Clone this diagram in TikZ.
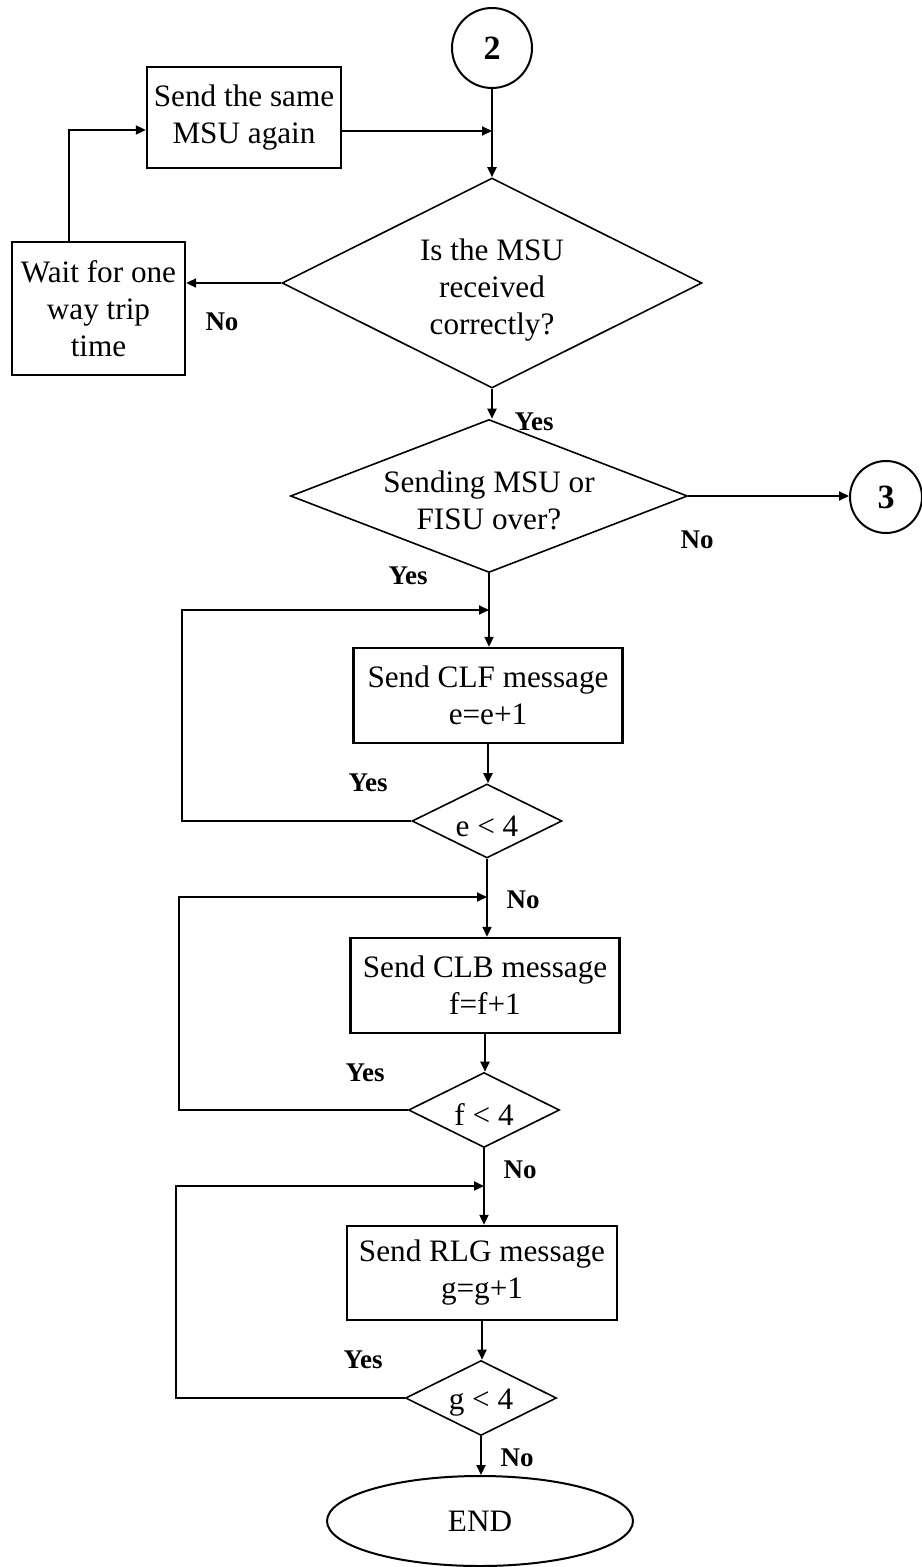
\documentclass[tikz,border=0pt]{standalone}
\usepackage{fontspec}
\setmainfont{Liberation Serif}
\usetikzlibrary{shapes.geometric,arrows.meta}

\begin{document}
\begin{tikzpicture}[x=0.5pt,y=-0.5pt,
  every node/.style={font=\fontsize{15.6}{18.5}\selectfont},
  box/.style={draw,line width=1.2pt,rectangle,inner sep=0pt,align=center},
  decision/.style={draw,line width=0.8pt,diamond,inner sep=0pt},
  connector/.style={draw,line width=1pt,circle,inner sep=0pt,
    font=\fontsize{17}{17}\selectfont\bfseries},
  terminal/.style={draw,line width=1pt,ellipse,inner sep=0pt},
  flow/.style={line width=1pt,-{Triangle[length=5pt,width=4.5pt]}},
  plain/.style={line width=1pt},
  lbl/.style={font=\fontsize{13.5}{13.5}\selectfont\bfseries,inner sep=0pt},
  dtxt/.style={align=center,inner sep=0pt,yshift=-2.5pt}
]
\useasboundingbox (0,0) rectangle (921,1567);

% ---- retransmission part ----
\node[connector,minimum size=40pt] (c2) at (492,48) {2};
\node[box,minimum width=97pt,minimum height=50.5pt] (send) at (244,117.5)
  {Send the same\\MSU again};
\node[box,minimum width=86.5pt,minimum height=66.5pt] (wait) at (98.5,308.5)
  {Wait for one\\way trip\\time};
\node[decision,minimum width=210pt,minimum height=105pt,
  label={[dtxt,yshift=-1pt]center:Is the MSU\\received\\correctly?}] (d1) at (492,283) {};

% ---- second decision ----
\node[decision,minimum width=198.5pt,minimum height=76.5pt,
  label={[dtxt,yshift=0.5pt]center:Sending MSU or\\FISU over?}] (d2) at (489,496) {};
\node[connector,minimum size=36pt] (c3) at (886,497) {3};

% ---- CLF / CLB / RLG loops ----
\node[box,minimum width=134.5pt,minimum height=47.5pt] (clf) at (488,695.5)
  {Send CLF message\\e=e+1};
\node[decision,minimum width=75pt,minimum height=37pt,
  label={[dtxt]center:e < 4}] (e) at (487,821) {};
\node[box,minimum width=134.5pt,minimum height=47.5pt] (clb) at (485,985.5)
  {Send CLB message\\f=f+1};
\node[decision,minimum width=75.5pt,minimum height=37.5pt,
  label={[dtxt]center:f < 4}] (f) at (484,1110) {};
\node[box,minimum width=135pt,minimum height=47pt] (rlg) at (482,1273)
  {Send RLG message\\g=g+1};
\node[decision,minimum width=75.5pt,minimum height=37.5pt,
  label={[dtxt]center:g < 4}] (g) at (481,1398) {};
\node[terminal,minimum width=153pt,minimum height=45pt] (end) at (480,1521) {END};

% ---- bend points ----
\coordinate (tl) at (69,130);
\coordinate (j1) at (492,131);
\coordinate (lp1) at (182,610);
\coordinate (in1) at (489,610);
\coordinate (lp2) at (179,897);
\coordinate (in2) at (487,897);
\coordinate (lp3) at (176,1186);
\coordinate (in3) at (484,1186);

% ---- connectors ----
\draw[flow] (c2.south) -- (c2.south |- d1.north);
\draw[flow] (send.east |- j1) -- (j1);
\draw[flow] (d1.west) -- (d1.west -| wait.east);
\draw[flow] (wait.north -| tl) -- (tl) -- (tl -| send.west);
\draw[flow] (d1.south) -- (d1.south |- d2.north);
\draw[flow] (d2.east) -- (d2.east -| c3.west);
\draw[flow] (d2.south) -- (d2.south |- clf.north);
\draw[flow] (e.west) -| (lp1) -- (in1);
\draw[flow] (clf.south) -- (clf.south |- e.north);
\draw[flow] (e.south) -- (e.south |- clb.north);
\draw[flow] (f.west) -| (lp2) -- (in2);
\draw[flow] (clb.south) -- (clb.south |- f.north);
\draw[flow] (f.south) -- (f.south |- rlg.north);
\draw[flow] (g.west) -| (lp3) -- (in3);
\draw[flow] (rlg.south) -- (rlg.south |- g.north);
\draw[flow] (g.south) -- (g.south |- end.north);

% ---- branch labels ----
\node[lbl] (no1) at (222,322) {No};
\node[lbl] (yes1) at (534,422) {Yes};
\node[lbl] (no2) at (697,540) {No};
\node[lbl] (yes2) at (408,576) {Yes};
\node[lbl] (yes3) at (368,783) {Yes};
\node[lbl] (no3) at (523,900) {No};
\node[lbl] (yes4) at (365,1073) {Yes};
\node[lbl] (no4) at (520,1170) {No};
\node[lbl] (yes5) at (363,1360) {Yes};
\node[lbl] (no5) at (517,1458) {No};
\end{tikzpicture}
\end{document}
